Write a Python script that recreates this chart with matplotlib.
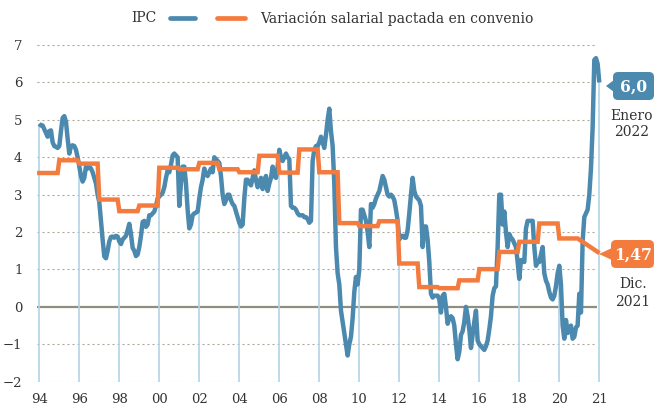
import matplotlib
matplotlib.use('Agg')
import matplotlib.pyplot as plt
import numpy as np
from matplotlib.lines import Line2D
from matplotlib.patches import FancyBboxPatch, Polygon
from matplotlib.transforms import Affine2D

# IPC, tasa interanual mensual (ene 1994 - ene 2022)
ipc = [
    4.9, 4.85, 4.85, 4.75, 4.65, 4.55, 4.7, 4.72, 4.4, 4.3, 4.28, 4.25,      # 1994
    4.3, 4.7, 5.05, 5.1, 4.95, 4.5, 4.1, 4.3, 4.32, 4.3, 4.2, 4.0,           # 1995
    3.75, 3.5, 3.35, 3.45, 3.75, 3.7, 3.75, 3.7, 3.6, 3.45, 3.3, 3.0,        # 1996
    2.8, 2.3, 1.8, 1.35, 1.3, 1.5, 1.75, 1.87, 1.88, 1.85, 1.9, 1.88,        # 1997
    1.75, 1.68, 1.8, 1.85, 1.9, 2.05, 2.22, 1.95, 1.58, 1.5, 1.36, 1.4,      # 1998
    1.6, 1.9, 2.27, 2.3, 2.14, 2.2, 2.45, 2.45, 2.5, 2.55, 2.7, 2.9,         # 1999
    2.95, 3.0, 3.05, 3.2, 3.45, 3.65, 3.6, 3.8, 4.05, 4.1, 4.05, 4.0,        # 2000
    2.7, 3.3, 3.75, 3.75, 3.3, 2.6, 2.1, 2.2, 2.45, 2.5, 2.52, 2.55,         # 2001
    2.9, 3.2, 3.4, 3.7, 3.55, 3.5, 3.6, 3.7, 3.6, 4.0, 3.95, 3.9,            # 2002
    3.85, 3.5, 3.0, 2.75, 2.85, 3.0, 3.0, 2.85, 2.75, 2.7, 2.55, 2.4,        # 2003
    2.25, 2.15, 2.2, 2.9, 3.4, 3.4, 3.3, 3.25, 3.45, 3.65, 3.4, 3.2,         # 2004
    3.3, 3.45, 3.15, 3.35, 3.5, 3.1, 3.3, 3.45, 3.75, 3.5, 3.45, 3.75,       # 2005
    4.2, 4.0, 3.9, 4.0, 4.1, 4.0, 3.95, 2.7, 2.65, 2.65, 2.6, 2.5,           # 2006
    2.45, 2.45, 2.45, 2.4, 2.4, 2.35, 2.25, 2.3, 3.9, 4.2, 4.3, 4.3,         # 2007
    4.4, 4.55, 4.4, 4.25, 4.6, 5.0, 5.3, 4.7, 4.3, 3.3, 1.6, 0.9,            # 2008
    0.6, -0.1, -0.4, -0.7, -1.0, -1.3, -1.0, -0.8, -0.3, 0.4, 0.8, 0.6,      # 2009
    1.0, 2.6, 2.6, 2.45, 2.3, 2.0, 1.6, 2.75, 2.65, 2.75, 2.9, 3.0,          # 2010
    3.1, 3.3, 3.5, 3.4, 3.2, 3.0, 2.95, 3.0, 2.95, 2.85, 2.6, 2.3,           # 2011
    1.8, 1.9, 1.9, 1.85, 1.85, 2.05, 2.5, 3.0, 3.45, 3.1, 2.95, 2.9,         # 2012
    2.85, 2.7, 1.6, 2.15, 2.15, 1.8, 1.2, 0.35, 0.25, 0.3, 0.3, 0.3,         # 2013
    0.2, -0.15, 0.3, 0.35, 0.0, -0.45, -0.3, -0.25, -0.3, -0.5, -1.0, -1.4,  # 2014
    -1.2, -0.75, -0.65, -0.4, 0.0, -0.25, -0.6, -1.1, -0.75, -0.4, -0.1, -0.9,  # 2015
    -1.0, -1.05, -1.1, -1.15, -1.05, -0.9, -0.6, -0.25, 0.3, 0.5, 0.55, 1.6,  # 2016
    3.0, 3.0, 2.2, 2.55, 2.0, 1.6, 1.95, 1.85, 1.8, 1.7, 1.6, 1.2,           # 2017
    0.75, 1.25, 1.25, 1.2, 2.1, 2.3, 2.3, 2.3, 2.3, 1.6, 1.1, 1.2,           # 2018
    1.2, 1.4, 1.6, 0.9, 0.7, 0.6, 0.4, 0.25, 0.2, 0.3, 0.55, 0.9,            # 2019
    1.1, 0.6, -0.5, -0.85, -0.35, -0.7, -0.55, -0.5, -0.85, -0.8, -0.55, -0.5,  # 2020
    0.35, -0.15, 1.75, 2.4, 2.5, 2.6, 3.0, 3.7, 4.8, 6.6, 6.65, 6.5,         # 2021
    6.0,                                                                     # ene 2022
]

# Variación salarial pactada en convenio, media anual 1994-2020
salario_anual = [3.58, 3.92, 3.83, 2.87, 2.56, 2.71, 3.72, 3.68, 3.85, 3.68,
                 3.60, 4.04, 3.59, 4.21, 3.60, 2.24, 2.16, 2.29, 1.16, 0.53,
                 0.50, 0.71, 1.01, 1.47, 1.74, 2.23, 1.83]
# 2021, mes a mes
salario_2021 = [1.80, 1.77, 1.74, 1.71, 1.68, 1.65, 1.62, 1.59, 1.56, 1.53, 1.50, 1.47]

anios_ticks = [1994, 1996, 1998, 2000, 2002, 2004, 2006, 2008, 2010,
               2012, 2014, 2016, 2018, 2020, 2022]
etiquetas_x = ['94', '96', '98', '00', '02', '04', '06', '08', '10',
               '12', '14', '16', '18', '20', '21']

BLUE = '#4b89ae'
ORANGE = '#f47b3e'
DROP = '#b3d3e4'
GRID = '#aaa697'
ZERO = '#8f8f80'
TEXT = '#333333'
FONT = 'DejaVu Serif'

fechas_ipc = 1994 + np.arange(len(ipc)) / 12
salario = np.concatenate([np.repeat(salario_anual, 12), salario_2021])
fechas_sal = 1994 + np.arange(len(salario)) / 12

W, H = 655, 405
fig = plt.figure(figsize=(W / 100, H / 100), dpi=100)
# pixel coords, origin top-left
pix = Affine2D().scale(1 / 100, -1 / 100).translate(0, H / 100) + fig.dpi_scale_trans

# axes: 1993.85 -> 36.3px, 2022.2 -> 603.3px ; -2 -> 381.7px, 7.2 -> 37.6px
ax = fig.add_axes([36.3 / W, (H - 381.7) / H, 567 / W, 344.1 / H])
ax.set_xlim(1993.85, 2022.2)
ax.set_ylim(-2, 7.2)
for s in ax.spines.values():
    s.set_visible(False)

# gridlines
ax.hlines([1, 2, 3, 4, 5, 6, 7, -1, -2], 1993.9, 2021.87, colors=GRID,
          linestyles=(0, (1.8, 2.7)), lw=0.8, zorder=1)
ax.hlines(0, 1993.9, 2021.87, colors=ZERO, lw=1.6, zorder=1)

# drop lines from the IPC curve down to the axis
for t in anios_ticks:
    ax.vlines(t, -2, np.interp(t, fechas_ipc, ipc), colors=DROP, lw=1.2, zorder=2)

ax.plot(fechas_ipc, ipc, color=BLUE, lw=3.2, solid_joinstyle='round',
        solid_capstyle='butt', zorder=3, clip_on=False)
ax.plot(fechas_sal, salario, color=ORANGE, lw=3.2, solid_joinstyle='miter',
        zorder=4, clip_on=False)

ax.set_xticks(anios_ticks, etiquetas_x)
ax.set_yticks(range(-2, 8))
ax.tick_params(length=0, labelsize=9.5, colors=TEXT)
ax.tick_params(axis='x', pad=8)
ax.tick_params(axis='y', pad=10)
for lab in ax.get_xticklabels() + ax.get_yticklabels():
    lab.set_family(FONT)

# legend (drawn by hand: "IPC ▬   ▬ Variación ...")
fig.text(157, 18, 'IPC', transform=pix, ha='right', va='center',
         fontsize=10, family=FONT, color=TEXT)
fig.add_artist(Line2D([170, 195], [18, 18], transform=pix, color=BLUE, lw=3.4,
                      solid_capstyle='round'))
fig.add_artist(Line2D([217, 245], [18, 18], transform=pix, color=ORANGE, lw=3.4,
                      solid_capstyle='round'))
fig.text(260, 18, 'Variación salarial pactada en convenio', transform=pix,
         ha='left', va='center', fontsize=10, family=FONT, color=TEXT)

# value tags at the right
def tag(x0, y0, y1, tip_x, text, color):
    yc = (y0 + y1) / 2
    fig.add_artist(FancyBboxPatch((x0, y0), 654 - x0, y1 - y0,
                                  boxstyle='round,pad=0,rounding_size=5',
                                  transform=pix, fc=color, ec='none'))
    fig.add_artist(Polygon([[tip_x, yc], [x0 + 1, yc - 6], [x0 + 1, yc + 6]],
                           closed=True, transform=pix, fc=color, ec='none'))
    fig.text((x0 + 654) / 2 + 0.5, yc + 1, text, transform=pix, ha='center',
             va='center', fontsize=12.5, fontweight='bold', fontstretch='condensed',
             family=FONT, color='white')

tag(613, 72, 100, 606, '6,0', BLUE)
tag(611, 240, 268, 599, '1,47', ORANGE)

for x, y, s in [(632, 116, 'Enero'), (632, 132, '2022'),
                (633, 284, 'Dic.'), (633, 302, '2021')]:
    fig.text(x, y, s, transform=pix, ha='center', va='center',
             fontsize=10, family=FONT, color=TEXT)

fig.savefig('out.png', dpi=100, facecolor='white')
